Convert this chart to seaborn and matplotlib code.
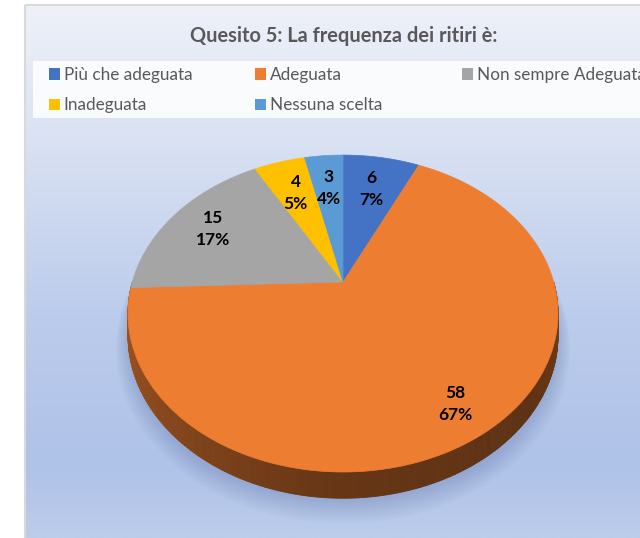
import numpy as np
import matplotlib
matplotlib.use("Agg")
import matplotlib.pyplot as plt
import seaborn as sns
from matplotlib.patches import Polygon, Rectangle, Patch
from matplotlib.collections import PolyCollection
from matplotlib.colors import to_rgb

# ---------------- data ----------------
title = "Quesito 5: La frequenza dei ritiri è:"
categories = ["Più che adeguata", "Adeguata", "Non sempre Adeguata", "Inadeguata", "Nessuna scelta"]
counts = [6, 58, 15, 4, 3]
pct_labels = [7, 67, 17, 5, 4]
colors = ["#4472C4", "#ED7D31", "#A5A5A5", "#FFC000", "#5B9BD5"]

# ---------------- style ----------------
sns.set_theme(style="white")
plt.rcParams['font.family'] = ['Lato', 'DejaVu Sans']

W, H = 640, 538
fig = plt.figure(figsize=(W / 100, H / 100), dpi=100)
fig.patch.set_facecolor("white")
ax = fig.add_axes([0, 0, 1, 1])

# pie computed by matplotlib (unit circle), then projected in perspective
wedges, _ = ax.pie(counts, colors=colors, startangle=90, counterclock=False,
                   radius=1, center=(0, 0))
ax.set_xlim(0, W)
ax.set_ylim(H, 0)
ax.set_aspect('auto')
ax.axis('off')

CX, CY, RX, RY, A, DEPTH = 343, 282, 210.7, 152.2, 0.199, 21.0


def proj(u, v, drop=0.0):
    s = 1 + A * v
    return CX + RX * u / s, CY - RY * v / s + drop / s


# background gradient of the chart area
stops_y = [5, 155, 315, 465, 538]
stops_c = [to_rgb(c) for c in ["#EEF1F9", "#D7E0F2", "#BCCCEC", "#AFC2E8", "#BCCCEB"]]
ys = np.linspace(5, 538, 300)
grad = np.stack([np.interp(ys, stops_y, [c[i] for c in stops_c]) for i in range(3)], axis=-1)
ax.imshow(grad[:, None, :], extent=(25, 640, 538, 5), aspect='auto', zorder=0, interpolation='bilinear')
ax.add_patch(Rectangle((25, 5), 620, 540, fill=False, edgecolor="#D9D9D9", lw=1.5, zorder=1))

# legend band
ax.add_patch(Rectangle((33, 61), 607, 57, facecolor="white", alpha=0.85, edgecolor="none", zorder=1))

# shadow under the pie
th = np.linspace(0, 2 * np.pi, 200)
for i in range(10):
    sc = 1 + 0.006 * i
    sx, sy = proj(np.cos(th) * sc, np.sin(th) * sc, DEPTH + 2 + 0.8 * i)
    ax.add_patch(Polygon(np.column_stack([sx, sy]), closed=True, facecolor="#5D74A8",
                         alpha=0.035, edgecolor="none", zorder=2))

# side (front rim)
angles = [(w.theta1, w.theta2) for w in wedges]


def wedge_at(deg):
    for k, (t1, t2) in enumerate(angles):
        d = (deg - t1) % 360
        if d <= (t2 - t1):
            return k
    return 0


tgrid = np.linspace(180, 360, 361)
polys, fcols = [], []
for t0, t1 in zip(tgrid[:-1], tgrid[1:]):
    tm = 0.5 * (t0 + t1)
    k = wedge_at(tm)
    shade = np.interp(tm, [180, 230, 270, 320, 360], [0.70, 0.55, 0.43, 0.40, 0.50])
    base = np.array(to_rgb(colors[k]))
    r0, r1 = np.radians(t0), np.radians(t1)
    p = [proj(np.cos(r0), np.sin(r0)), proj(np.cos(r1), np.sin(r1)),
         proj(np.cos(r1), np.sin(r1), DEPTH), proj(np.cos(r0), np.sin(r0), DEPTH)]
    polys.append(p)
    fcols.append(base * shade)
ax.add_collection(PolyCollection(polys, facecolors=fcols, edgecolors=fcols, linewidths=0.6, zorder=3))

# top faces
for w, c in zip(wedges, colors):
    ts = np.radians(np.linspace(w.theta1, w.theta2, 200))
    u = np.concatenate([[0], np.cos(ts)])
    v = np.concatenate([[0], np.sin(ts)])
    x, y = proj(u, v)
    ax.add_patch(Polygon(np.column_stack([x, y]), closed=True, facecolor=c,
                         edgecolor=c, lw=0.5, zorder=4))
    w.remove()

# data labels
LABEL_R = [0.71, 0.83, 0.76, 0.71, 0.71]
for w, n, p, r in zip(wedges, counts, pct_labels, LABEL_R):
    tm = np.radians(0.5 * (w.theta1 + w.theta2))
    x, y = proj(r * np.cos(tm), r * np.sin(tm))
    ax.text(x, y, f"{n}\n{p}%", ha='center', va='center', fontsize=12.5,
            fontweight='bold', color='black', linespacing=1.45, zorder=5)

# title
fig.suptitle(title, x=344 / W, y=1 - 36 / H, va='center', ha='center',
             fontsize=14.4, fontweight='bold', color='#595959')

# legend (three columns)
handles = [Patch(facecolor=c, edgecolor='none') for c in colors]
cols = [([0, 3], 49), ([1, 4], 255), ([2], 462)]
for idx, x0 in cols:
    fig.legend([handles[i] for i in idx], [categories[i] for i in idx],
               loc='upper left', bbox_to_anchor=(x0 / W, 1 - 67 / H),
               bbox_transform=fig.transFigure, frameon=False, borderpad=0,
               borderaxespad=0, handlelength=0.65, handleheight=0.65,
               handletextpad=0.2, labelspacing=0.84, fontsize=12.3,
               labelcolor='#595959')

fig.savefig("out.png", dpi=100)
